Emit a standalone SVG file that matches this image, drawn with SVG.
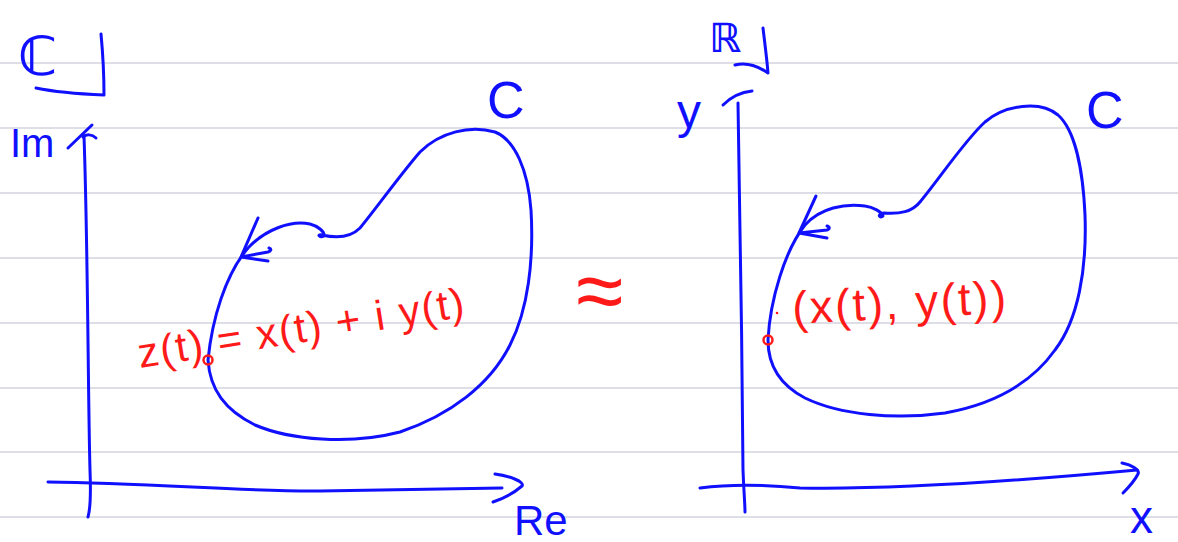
<svg xmlns="http://www.w3.org/2000/svg" width="1178" height="542" viewBox="0 0 1178 542">
<style>
.ruled{stroke:#d4d4de;stroke-width:1.5;fill:none}
.ink{stroke:#1010ff;stroke-width:3;fill:none;stroke-linecap:round;stroke-linejoin:round}
.red{stroke:#ff1a1a;stroke-width:2.5;fill:none;stroke-linecap:round}
.bt{fill:#1010ff;font-family:"Liberation Sans",Arial,sans-serif}
.dj{fill:#1010ff;font-family:"DejaVu Sans",sans-serif}
.rt{fill:#ff1a1a;font-family:"Liberation Sans",Arial,sans-serif}
</style>
<rect width="1178" height="542" fill="#ffffff"/>
<g id="paper">
<path class="ruled" d="M0 63H1178M0 128H1178M0 193H1178M0 258H1178M0 323H1178M0 388H1178M0 452H1178M0 517H1178"/>
</g>
<g id="left-plane">
<text class="dj" x="18" y="75" font-size="54" font-weight="bold">ℂ</text>
<path class="ink" d="M101 34 C103 55,104 75,104 95 C80 94,55 92,36 88"/>
<text class="bt" x="10" y="157" font-size="40">Im</text>
<path class="ink" d="M68 148 L92 125"/>
<path class="ink" d="M83 137 C86 134,92 134,96 138"/>
<text class="bt" x="487" y="118" font-size="52">C</text>
<text class="bt" x="514" y="535" font-size="42">Re</text>
</g>
<g id="right-plane">
<text class="dj" x="709" y="52" font-size="40" font-weight="bold">ℝ</text>
<path class="ink" d="M763 28 C765 45,767 60,768 73 C758 66,746 62,735 65"/>
<text class="bt" x="677" y="128" font-size="48">y</text>
<path class="ink" d="M723 105 C732 96,742 92,752 91"/>
<text class="bt" x="1086" y="128" font-size="52">C</text>
<text class="bt" x="1130" y="533" font-size="46">x</text>
</g>
<g id="connectors">
<path class="ink" d="M84 136 C88 250,88 400,90 470 C91 495,90 510,88 517"/>
<path class="ink" d="M48 482 C150 483,250 492,320 491 C400 490,460 489,502 488"/>
<path class="ink" d="M495 474 C510 476,525 482,522 486 C515 492,505 498,493 502"/>
<path class="ink" d="M738 103 C740 200,742 350,743 470 C744 495,745 505,745 512"/>
<path class="ink" d="M700 488 C730 484,760 484,800 488 C900 490,1050 478,1137 470"/>
<path class="ink" d="M1122 463 C1132 465,1140 470,1138 474 C1134 482,1128 488,1123 493"/>
</g>
<g id="curve-left">
<path class="ink" d="M208 360 C212 320,225 275,248 248 C265 230,290 220,310 224 C318 226,325 232,324 236 C320 238,316 234,322 235 C335 238,350 238,360 228 C375 210,400 175,420 152 C440 132,470 125,495 132 C515 140,528 170,531 210 C534 260,528 310,510 345 C490 385,450 415,400 432 C350 445,290 440,255 425 C225 410,210 390,208 360 Z"/>
<path class="ink" d="M268 261 L241 257 L268 252 C271 251,272 249,269 248 M241 257 L258 218"/>
</g>
<g id="curve-right">
<path class="ink" d="M768 340 C770 300,785 250,805 225 C820 208,845 203,865 206 C873 207,882 212,883 216 C880 219,876 214,884 213 C900 214,912 212,920 202 C940 178,965 140,985 122 C1005 105,1040 100,1058 115 C1075 130,1083 170,1085 215 C1087 270,1078 320,1055 350 C1030 385,990 405,945 413 C895 420,840 415,805 398 C780 385,768 365,768 340 Z"/>
<path class="ink" d="M827 238 L799 233 L827 230 C830 229,830 227,827 226 M799 233 L816 196"/>
</g>
<g id="point-left">
<circle class="red" cx="208" cy="360" r="4.5"/>
<text class="rt" x="140" y="368" font-size="42" transform="rotate(-9 140 368)" textLength="330" lengthAdjust="spacing">z(t) = x(t) + i y(t)</text>
</g>
<g id="point-right">
<circle class="red" cx="768" cy="340" r="4.5"/>
<circle cx="777" cy="313" r="1.3" fill="#ff1a1a"/>
<text class="rt" x="793" y="324" font-size="46" transform="rotate(-3 793 324)" textLength="214" lengthAdjust="spacing">(x(t), y(t))</text>
</g>
<g id="equiv">
<text class="rt" x="576" y="320" font-size="86">≈</text>
</g>
</svg>
